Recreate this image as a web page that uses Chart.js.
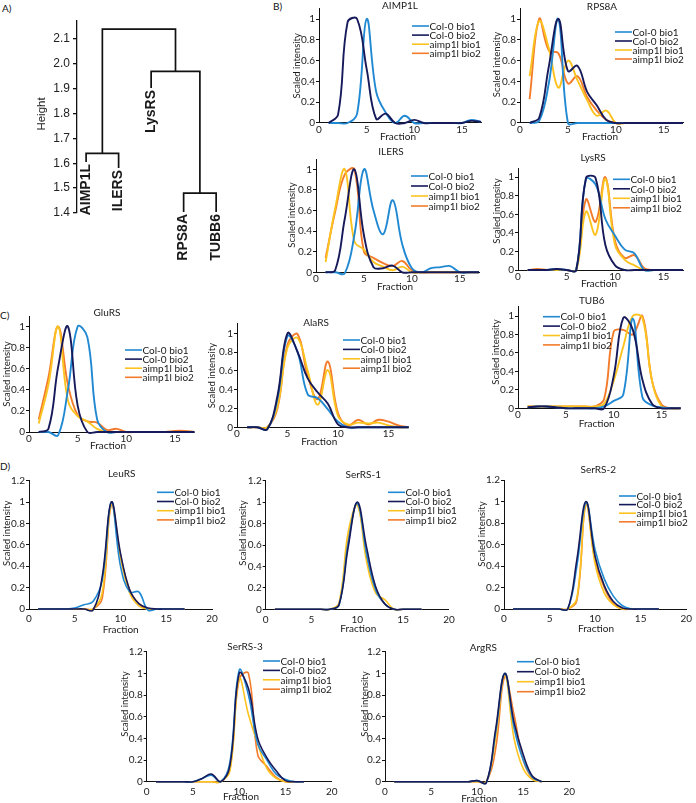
<!DOCTYPE html>
<html>
<head>
<meta charset="utf-8">
<script src="https://cdn.jsdelivr.net/npm/chart.js@4.4.1/dist/chart.umd.min.js"></script>
<style>
  html, body { margin: 0; padding: 0; background: #fff; }
  #fig { position: relative; width: 696px; height: 803px; overflow: hidden; }
  #fig canvas { position: absolute; left: 0; top: 0; }
  .tag { position: absolute; font: 10px Lato, sans-serif; line-height: 1; color: #111; }
</style>
</head>
<body>
<div id="fig">
  <div class="tag" style="left:2px;top:3px">A)</div>
  <div class="tag" style="left:273px;top:1px">B)</div>
  <div class="tag" style="left:0px;top:310px">C)</div>
  <div class="tag" style="left:0px;top:461px">D)</div>
</div>
<script>
// ---- dendrogram (panel A) ----
const leafNames = ["AIMP1L", "ILERS", "LysRS", "RPS8A", "TUBB6"];
const leafEnds = [1.605, 1.581, 1.903, 1.404, 1.404];
// hclust style: negative = leaf, positive = earlier merge
const mergePairs = [[-1, -2], [-4, -5], [-3, 2], [1, 3]];
const mergeHeights = [1.64, 1.48, 1.97, 2.14];
const heightTicks = [1.4, 1.5, 1.6, 1.7, 1.8, 1.9, 2.0, 2.1];

// ---- fractionation profiles (panels B-D) ----
const fractions = [1, 2, 3, 4, 5, 6, 7, 8, 9, 10, 11, 12, 13, 14, 15, 16, 17];
const seriesNames = ["Col-0 bio1", "Col-0 bio2", "aimp1l bio1", "aimp1l bio2"];
const seriesColors = ["#2189d2", "#16195a", "#fcc320", "#f27c2c"];
const xTicksShort = [0, 5, 10, 15];
const xTicksLong = [0, 5, 10, 15, 20];
const yTicksShort = [0, 0.2, 0.4, 0.6, 0.8, 1];
const yTicksLong = [0, 0.2, 0.4, 0.6, 0.8, 1, 1.2];

// each: [Col-0 bio1, Col-0 bio2, aimp1l bio1, aimp1l bio2]
const AIMP1L = [
  [0, 0, 0, 0.09, 1.0, 0.3, 0.1, 0, 0.07, 0, 0, 0, 0, 0, 0, 0.03, 0.01],
  [0, 0.08, 0.97, 1.0, 0.52, 0.04, 0.09, 0, 0, 0.03, 0, 0, 0, 0, 0, 0.02, 0.01],
  [],
  []
];
const RPS8A = [
  [0, 0.02, 0.38, 1.0, 0, 0, 0, 0, 0, 0, 0, 0, 0, 0, 0, 0, 0],
  [0, 0.05, 0.54, 1.0, 0.5, 0.55, 0.3, 0.17, 0.03, 0, 0, 0, 0, 0, 0, 0, 0],
  [0.45, 0.98, 0.72, 0.34, 0.6, 0.41, 0.22, 0.07, 0.12, 0, 0, 0, 0, 0, 0, 0, 0],
  [0.23, 1.0, 0.7, 0.67, 0.38, 0.45, 0.25, 0.12, 0.03, 0, 0, 0, 0, 0, 0, 0, 0]
];
const ILERS = [
  [0, 0, -0.01, 0.36, 1.0, 0.6, 0.37, 0.7, 0.27, 0.04, 0, 0.04, 0.05, 0.06, 0, 0, 0],
  [0, 0.02, 0.52, 1.0, 0.36, 0.05, 0.04, 0.065, 0, 0, 0, 0, 0, 0, 0, 0, 0],
  [0.1, 0.62, 1.0, 0.3, 0.22, 0.1, 0.055, 0.02, 0.055, 0, 0, 0, 0, 0, 0, 0, 0],
  [0.14, 0.59, 0.95, 1.0, 0.2, 0.14, 0.09, 0.06, 0.11, 0.02, 0, 0, 0, 0, 0, 0, 0]
];
const LysRS = [
  [0, 0, 0, 0.01, 0, 0, 0.98, 0.92, 0.55, 0.37, 0.22, 0.18, 0, 0, 0, 0, 0],
  [0, 0, 0, 0.01, 0, 0, 0.99, 0.99, 0.27, 0.05, 0, 0, 0, 0, 0, 0, 0],
  [0, 0, 0, 0, 0, 0, 0.63, 0.38, 0.98, 0.27, 0.11, 0.05, 0, 0, 0, 0, 0],
  [0, 0.01, 0, 0, 0, 0, 0.76, 0.52, 1.0, 0.31, 0.13, 0.16, 0.02, 0, 0, 0, 0]
];
const GluRS = [
  [0, 0, -0.03, 0.4, 1.0, 0.9, 0.12, 0, 0, 0, 0, 0, 0, 0, 0, 0, 0],
  [0, 0.03, 0.62, 1.0, 0.25, 0, 0, 0, 0, 0, 0, 0, 0, 0, 0, 0, 0],
  [0.08, 0.45, 1.0, 0.3, 0.15, 0.1, 0.03, 0, 0, 0, 0, 0, 0, 0, 0, 0, 0],
  [0.12, 0.52, 1.0, 0.45, 0.16, 0.1, 0.09, 0.02, 0.03, 0, 0, 0, 0, 0, 0.01, 0.01, 0]
];
const AlaRS = [
  [0, 0, -0.02, 0.3, 0.97, 0.8, 0.35, 0.31, 0.19, 0.06, 0, 0, 0, 0, 0, 0, 0],
  [0, 0, -0.02, 0.33, 1.0, 0.8, 0.52, 0.37, 0.25, 0.03, 0, 0, 0, 0, 0, 0, 0],
  [0, 0, 0, 0.22, 0.85, 0.95, 0.6, 0.24, 0.61, 0.12, 0.03, 0.05, 0.04, 0.05, 0.02, 0, 0],
  [0, 0, 0, 0.2, 0.88, 0.99, 0.55, 0.3, 0.7, 0.15, 0.02, 0.08, 0.03, 0.08, 0.06, 0.02, 0]
];
const TUB6 = [
  [0.01, 0.02, 0.02, 0.01, 0, 0, 0, 0, 0.02, 0.08, 0.15, 0.97, 0.12, 0.03, 0.01, 0, 0],
  [0.01, 0.02, 0.02, 0.01, 0, 0, 0, 0, 0, 0.35, 0.98, 0.85, 0.31, 0.05, 0, 0, 0],
  [0.02, 0.02, 0.02, 0.02, 0.02, 0.02, 0.02, 0.02, 0.05, 0.3, 0.67, 1.0, 0.98, 0.3, 0.02, 0, 0],
  [0.02, 0.02, 0.02, 0.02, 0.02, 0.02, 0.02, 0.02, 0.1, 0.83, 0.85, 0.8, 1.0, 0.3, 0.04, 0, 0]
];
const LeuRS = [
  [0, 0, 0, 0, 0.01, 0.04, 0.07, 0.27, 1.0, 0.4, 0.16, 0.16, -0.01, 0, 0, 0, 0],
  [0, 0, 0, 0, 0, 0, -0.01, 0.3, 1.0, 0.52, 0.18, 0.05, 0.01, 0, 0, 0, 0],
  [0, 0, 0, 0, 0, 0, 0, 0.15, 0.98, 0.48, 0.15, 0.03, 0, 0, 0, 0, 0],
  [0, 0, 0, 0, 0, 0, 0, 0.1, 0.97, 0.5, 0.18, 0.05, 0, 0, 0, 0, 0]
];
const SerRS1 = [
  [0, 0, 0, 0, 0, 0, 0, 0.04, 0.62, 0.99, 0.52, 0.18, 0.05, 0, 0, 0, 0],
  [0, 0, 0, 0, 0, 0, 0, 0.04, 0.58, 1.0, 0.58, 0.21, 0.05, 0, 0, 0, 0],
  [0, 0, 0, 0, 0, 0, 0, 0.06, 0.72, 0.97, 0.45, 0.15, 0.09, 0, 0, 0, 0],
  [0, 0, 0, 0, 0, 0, 0, 0.05, 0.65, 0.98, 0.5, 0.18, 0.05, 0, 0, 0, 0]
];
const SerRS2 = [
  [0, 0, 0, 0, 0, 0, 0, 0.4, 0.99, 0.55, 0.28, 0.12, 0.03, 0, 0, 0, 0],
  [0, 0, 0, 0, 0, 0, 0, 0.46, 1.0, 0.49, 0.22, 0.07, 0.01, 0, 0, 0, 0],
  [0, 0, 0, 0, 0, 0, 0, 0.1, 0.98, 0.42, 0.15, 0.04, 0, 0, 0, 0, 0],
  [0, 0, 0, 0, 0, 0, 0, 0.08, 0.97, 0.45, 0.2, 0.05, 0, 0, 0, 0, 0]
];
const SerRS3 = [
  [0, 0, 0, 0, 0, 0.03, 0.06, 0, 0.18, 1.03, 0.8, 0.35, 0.2, 0.07, 0.02, 0, 0],
  [0, 0, 0, 0, 0, 0.03, 0.07, 0, 0.15, 1.0, 0.86, 0.4, 0.22, 0.1, 0.01, 0, 0],
  [0, 0, 0, 0, 0, 0, 0, 0, 0.1, 0.95, 0.62, 0.35, 0.12, 0.03, 0, 0, 0],
  [0, 0, 0, 0, 0, 0, 0, 0, 0.12, 0.95, 1.0, 0.25, 0.14, 0.04, 0, 0, 0]
];
const ArgRS = [
  [0, 0, 0, 0, 0, 0, 0, 0, 0, 0.01, -0.01, 0.45, 1.0, 0.5, 0.2, 0.04, 0],
  [0, 0, 0, 0, 0, 0, 0, 0, 0, 0.01, -0.01, 0.48, 1.0, 0.55, 0.25, 0.05, 0],
  [0, 0, 0, 0, 0, 0, 0, 0, 0, 0, 0, 0.4, 0.98, 0.4, 0.12, 0.02, 0],
  [0, 0, 0, 0, 0, 0, 0, 0, 0, 0, 0, 0.3, 0.97, 0.62, 0.2, 0.03, 0]
];

const W = 696, H = 803;
const FONT = "Lato, 'Open Sans', sans-serif";
const drawOrder = [1, 0, 2, 3]; // navy on top

// text drawn on top of each chart: title, axis titles, legend, leaf labels
const annotate = {
  id: "annotate",
  afterDraw(chart, args, o) {
    const ctx = chart.ctx;
    ctx.save();
    ctx.fillStyle = "#1a1a1a";
    ctx.textBaseline = "middle";
    if (o.title) {
      ctx.font = "10px " + FONT;
      ctx.textAlign = "center";
      ctx.fillText(o.title.text, o.title.x, o.title.y);
    }
    if (o.xTitle) {
      ctx.font = o.xTitle.font;
      ctx.textAlign = "center";
      ctx.fillText(o.xTitle.text, o.xTitle.x, o.xTitle.y);
    }
    if (o.yTitle) {
      ctx.save();
      ctx.translate(o.yTitle.x, o.yTitle.y);
      ctx.rotate(-Math.PI / 2);
      ctx.font = o.yTitle.font;
      ctx.textAlign = "center";
      ctx.fillText(o.yTitle.text, 0, 0);
      ctx.restore();
    }
    if (o.legend) {
      ctx.font = "10px " + FONT;
      ctx.textAlign = "left";
      chart.data.datasets.forEach((ds, k) => {
        const y = o.legend.y + k * o.legend.dy;
        ctx.strokeStyle = ds.borderColor;
        ctx.lineWidth = 1.6;
        ctx.beginPath();
        ctx.moveTo(o.legend.x, y);
        ctx.lineTo(o.legend.x + 17, y);
        ctx.stroke();
        ctx.fillText(ds.label, o.legend.x + 17.5, y + 0.5);
      });
    }
    if (o.leaves) {
      const xs = chart.scales.x, ys = chart.scales.y;
      ctx.font = "bold 14px 'Liberation Sans', Arial, sans-serif";
      ctx.textAlign = "right";
      leafNames.forEach((name, i) => {
        ctx.save();
        ctx.translate(xs.getPixelForValue(i + 1), ys.getPixelForValue(leafEnds[i]) + 2);
        ctx.rotate(-Math.PI / 2);
        ctx.fillText(name, 0, 0);
        ctx.restore();
      });
    }
    ctx.restore();
  }
};

function addCanvas() {
  const c = document.createElement("canvas");
  c.width = W; c.height = H;
  document.getElementById("fig").appendChild(c);
  return c;
}

// ---- panel A ----
function nodeX(id) {
  if (id < 0) return -id;
  const [a, b] = mergePairs[id - 1];
  return (nodeX(a) + nodeX(b)) / 2;
}
function nodeH(id) {
  return id < 0 ? leafEnds[-id - 1] : mergeHeights[id - 1];
}
new Chart(addCanvas(), {
  type: "line",
  data: {
    datasets: mergePairs.map(([a, b], j) => ({
      data: [
        { x: nodeX(a), y: nodeH(a) },
        { x: nodeX(a), y: mergeHeights[j] },
        { x: nodeX(b), y: mergeHeights[j] },
        { x: nodeX(b), y: nodeH(b) }
      ],
      borderColor: "#111",
      borderWidth: 1.7,
      pointRadius: 0,
      tension: 0
    }))
  },
  options: {
    responsive: false,
    animation: false,
    layout: { padding: { left: 77 - 40, top: 20.7, right: W - 235, bottom: H - 213 } },
    plugins: {
      legend: { display: false },
      tooltip: { enabled: false },
      annotate: {
        leaves: true,
        yTitle: { text: "Height", x: 42.3, y: 114, font: "11.5px 'Liberation Sans', Arial, sans-serif" }
      }
    },
    scales: {
      x: { type: "linear", display: false, min: 0.72, max: 5.58 },
      y: {
        min: 1.4, max: 2.1735,
        afterFit: s => { s.width = 40; },
        afterBuildTicks: s => { s.ticks = heightTicks.map(v => ({ value: v })); },
        grid: { display: true, drawOnChartArea: false, drawTicks: true, tickLength: 4, color: "#111", lineWidth: 1.3 },
        border: { display: true, color: "#111", width: 1.3 },
        ticks: { padding: 3, color: "#222", font: { family: "'Liberation Sans', Arial, sans-serif", size: 12 }, callback: v => v.toFixed(1) }
      }
    }
  },
  plugins: [annotate]
});

// ---- panels B-D ----
const panels = [
  { name: "AIMP1L", rows: AIMP1L, long: false, lw: 1.9, l: 319, r: 481, t: 8.6, b: 123, title: [400, 6], yT: [296.7, 65.8], xT: [398, 137], leg: [412, 26, 9.1] },
  { name: "RPS8A", rows: RPS8A, long: false, lw: 1.9, l: 520, r: 683, t: 8.6, b: 123, title: [602, 7], yT: [496.7, 64.5], xT: [600, 136.5], leg: [615, 32, 9] },
  { name: "ILERS", rows: ILERS, long: false, lw: 1.9, l: 316, r: 479, t: 159, b: 272.3, title: [391, 151.7], yT: [291.7, 215], xT: [395, 286.5], leg: [411, 176, 10] },
  { name: "LysRS", rows: LysRS, long: false, lw: 1.9, l: 518, r: 683, t: 168, b: 270, title: [593, 157.7], yT: [496.7, 211], xT: [599, 284], leg: [613, 179.3, 9.5] },
  { name: "GluRS", rows: GluRS, long: false, lw: 1.9, l: 29, r: 194.4, t: 316, b: 432, title: [107, 313], yT: [6.7, 374], xT: [108, 446], leg: [125, 350, 9.1] },
  { name: "AlaRS", rows: AlaRS, long: false, lw: 1.9, l: 237, r: 408.7, t: 323.9, b: 427.3, title: [316, 322.7], yT: [212.3, 375.6], xT: [319.3, 441.7], leg: [343, 340, 9.4] },
  { name: "TUB6", rows: TUB6, long: false, lw: 1.9, l: 518, r: 680.7, t: 306.8, b: 408.3, title: [591.7, 300.7], yT: [496, 352], xT: [596.7, 424], leg: [543, 316.7, 9.4] },
  { name: "LeuRS", rows: LeuRS, long: true, lw: 1.6, l: 29, r: 212, t: 480.6, b: 609, title: [121.7, 473.3], yT: [6.7, 533.3], xT: [120.7, 629.3], leg: [157, 492.3, 9.2] },
  { name: "SerRS-1", rows: SerRS1, long: true, lw: 1.6, l: 265.7, r: 449, t: 480.7, b: 609.3, title: [363.3, 474.3], yT: [243.3, 533], xT: [358.3, 629], leg: [388, 492.3, 9.2] },
  { name: "SerRS-2", rows: SerRS2, long: true, lw: 1.6, l: 504, r: 689, t: 480, b: 609, title: [598.3, 470], yT: [481.7, 534], xT: [596, 629], leg: [619, 496, 8.6] },
  { name: "SerRS-3", rows: SerRS3, long: true, lw: 1.6, l: 146.7, r: 331.7, t: 651.7, b: 781.7, title: [245, 646.7], yT: [125, 704], xT: [241, 796.7], leg: [263, 661, 9.4] },
  { name: "ArgRS", rows: ArgRS, long: true, lw: 1.6, l: 385, r: 569.3, t: 651.7, b: 781.7, title: [483.3, 647.7], yT: [365, 704], xT: [479.3, 799], leg: [517, 661.7, 10] }
];

panels.forEach(p => {
  const xTicks = p.long ? xTicksLong : xTicksShort;
  const yTicks = p.long ? yTicksLong : yTicksShort;
  new Chart(addCanvas(), {
    type: "line",
    data: {
      datasets: seriesNames.map((label, k) => ({
        label,
        data: p.rows[k].map((v, i) => ({ x: fractions[i], y: v })),
        borderColor: seriesColors[k],
        borderWidth: p.lw,
        pointRadius: 0,
        tension: 0.4,
        fill: false,
        clip: false,
        order: drawOrder[k]
      }))
    },
    options: {
      responsive: false,
      animation: false,
      elements: { line: { capBezierPoints: false } },
      layout: { padding: { left: p.l - 30, right: W - p.r, top: p.t, bottom: H - p.b - 30 } },
      plugins: {
        legend: { display: false },
        tooltip: { enabled: false },
        annotate: {
          title: { text: p.name, x: p.title[0], y: p.title[1] },
          xTitle: { text: "Fraction", x: p.xT[0], y: p.xT[1], font: "10px " + FONT },
          yTitle: { text: "Scaled intensity", x: p.yT[0], y: p.yT[1], font: "9.5px " + FONT },
          legend: { x: p.leg[0], y: p.leg[1], dy: p.leg[2] }
        }
      },
      scales: {
        x: {
          type: "linear", min: 0, max: p.long ? 20 : 17,
          afterFit: s => { s.height = 30; },
          afterBuildTicks: s => { s.ticks = xTicks.map(v => ({ value: v })); },
          grid: { display: false, drawTicks: false, tickLength: 0 },
          border: { display: true, color: "#111", width: 1 },
          ticks: { padding: p.long ? 4 : 0.5, color: "#222", maxRotation: 0, autoSkip: false, font: { family: FONT, size: 10 } }
        },
        y: {
          min: 0, max: p.long ? 1.2 : 1.1,
          afterFit: s => { s.width = 30; },
          afterBuildTicks: s => { s.ticks = yTicks.map(v => ({ value: v })); },
          grid: { display: true, drawOnChartArea: false, drawTicks: true, tickLength: 3, color: "#111" },
          border: { display: true, color: "#111", width: 1 },
          ticks: { padding: 1, color: "#222", font: { family: FONT, size: 10 }, callback: v => String(v) }
        }
      }
    }
    ,
    plugins: [annotate]
  });
});
</script>
</body>
</html>
